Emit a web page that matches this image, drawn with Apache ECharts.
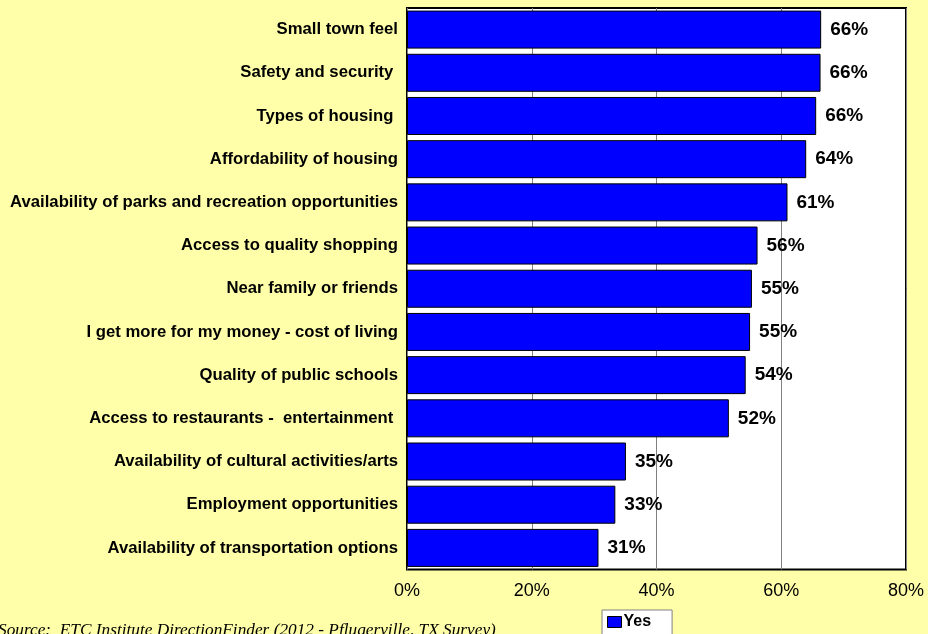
<!DOCTYPE html>
<html>
<head>
<meta charset="utf-8">
<script src="https://cdn.jsdelivr.net/npm/echarts@6/dist/echarts.min.js"></script>
<style>
  html, body { margin: 0; padding: 0; background: #FFFFAA; }
  #chart { width: 928px; height: 634px; }
</style>
</head>
<body>
<div id="chart"></div>
<script>
// Reasons for choosing to live in the community (share answering "Yes")
const categories = [
  'Small town feel',
  'Safety and security ',
  'Types of housing ',
  'Affordability of housing',
  'Availability of parks and recreation opportunities',
  'Access to quality shopping',
  'Near family or friends',
  'I get more for my money - cost of living',
  'Quality of public schools',
  'Access to restaurants -  entertainment ',
  'Availability of cultural activities/arts',
  'Employment opportunities',
  'Availability of transportation options'
];
const yesValues = [66.4, 66.3, 65.6, 64.0, 61.0, 56.2, 55.3, 55.0, 54.3, 51.6, 35.1, 33.4, 30.7];
const seriesName = 'Yes';
const axisTicks = [0, 20, 40, 60, 80];
const sourceNote = 'Source:  ETC Institute DirectionFinder (2012 - Pflugerville, TX Survey)';

const chart = echarts.init(document.getElementById('chart'), null, { renderer: 'canvas' });

chart.setOption({
  backgroundColor: '#FFFFAA',
  animation: false,
  textStyle: { fontFamily: 'Liberation Sans, Arial, sans-serif' },
  grid: {
    left: 407, right: 22, top: 8, bottom: 64.5,
    show: true,
    backgroundColor: '#FFFFFF',
    borderColor: '#000000',
    borderWidth: 2,
    containLabel: false
  },
  legend: {
    data: [seriesName],
    left: 602, top: 610,
    backgroundColor: '#FFFFFF',
    borderColor: '#808080',
    borderWidth: 1,
    padding: [4, 21, 10, 5],
    itemWidth: 14, itemHeight: 11, itemGap: 2,
    icon: 'rect',
    itemStyle: { borderColor: '#000', borderWidth: 1 },
    textStyle: { fontWeight: 'bold', fontSize: 16, color: '#000', padding: [0, 0, 0, -3] }
  },
  xAxis: {
    type: 'value',
    min: axisTicks[0],
    max: axisTicks[axisTicks.length - 1],
    interval: axisTicks[1] - axisTicks[0],
    axisLine: { show: false },
    axisTick: { show: false },
    axisLabel: {
      formatter: v => v + '%',
      fontSize: 18,
      color: '#000',
      margin: 13
    },
    splitLine: { show: true, lineStyle: { color: '#808080', width: 1 } }
  },
  yAxis: {
    type: 'category',
    data: categories,
    inverse: true,
    axisLine: { show: false },
    axisTick: { show: false },
    axisLabel: {
      fontSize: 16.7,
      fontWeight: 'bold',
      color: '#000',
      margin: 9
    }
  },
  series: [{
    name: seriesName,
    type: 'bar',
    data: yesValues,
    barCategoryGap: '12%',
    itemStyle: { color: '#0000FF', borderColor: '#000000', borderWidth: 1 },
    label: {
      show: true,
      position: 'right',
      distance: 9,
      formatter: p => Math.round(p.value) + '%',
      fontSize: 19,
      fontWeight: 'bold',
      color: '#000'
    }
  }],
  graphic: [{
    type: 'text',
    left: -2,
    top: 622,
    style: {
      text: sourceNote,
      font: 'italic 17.3px "Liberation Serif", "Times New Roman", serif',
      fill: '#000'
    }
  }]
});
</script>
</body>
</html>
